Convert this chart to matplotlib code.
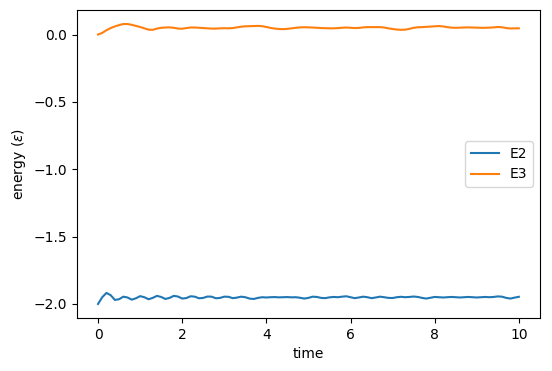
import numpy as np
import matplotlib
matplotlib.use("Agg")
import matplotlib.pyplot as plt

# tiempo (paso 0.1)
tiempo = np.arange(101) / 10

# energia E2
e2 = [
    -2.000, -1.950, -1.918, -1.935, -1.970, -1.965, -1.946, -1.952, -1.968, -1.958,
    -1.942, -1.950, -1.965, -1.955, -1.940, -1.948, -1.963, -1.955, -1.940, -1.945,
    -1.960, -1.956, -1.943, -1.946, -1.958, -1.955, -1.945, -1.946, -1.958, -1.955,
    -1.946, -1.947, -1.957, -1.953, -1.946, -1.950, -1.960, -1.963, -1.955, -1.950,
    -1.952, -1.950, -1.949, -1.951, -1.950, -1.949, -1.951, -1.950, -1.954, -1.960,
    -1.955, -1.946, -1.948, -1.955, -1.957, -1.951, -1.948, -1.950, -1.946, -1.943,
    -1.950, -1.957, -1.952, -1.946, -1.950, -1.957, -1.952, -1.946, -1.950, -1.955,
    -1.956, -1.950, -1.947, -1.950, -1.948, -1.945, -1.948, -1.955, -1.960, -1.954,
    -1.948, -1.950, -1.952, -1.950, -1.948, -1.950, -1.952, -1.950, -1.948, -1.950,
    -1.952, -1.950, -1.948, -1.950, -1.948, -1.944, -1.946, -1.955, -1.960, -1.953,
    -1.947,
]

# energia E3
e3 = [
    0.000, 0.012, 0.032, 0.048, 0.060, 0.070, 0.078, 0.078, 0.072, 0.064,
    0.056, 0.046, 0.036, 0.035, 0.044, 0.050, 0.052, 0.053, 0.050, 0.044,
    0.043, 0.048, 0.052, 0.052, 0.050, 0.048, 0.046, 0.044, 0.044, 0.046,
    0.047, 0.046, 0.048, 0.053, 0.058, 0.061, 0.062, 0.063, 0.064, 0.062,
    0.056, 0.049, 0.044, 0.041, 0.040, 0.042, 0.046, 0.050, 0.053, 0.054,
    0.053, 0.052, 0.050, 0.048, 0.047, 0.046, 0.046, 0.048, 0.050, 0.052,
    0.050, 0.048, 0.049, 0.053, 0.055, 0.055, 0.055, 0.055, 0.052, 0.046,
    0.041, 0.037, 0.035, 0.036, 0.042, 0.050, 0.054, 0.055, 0.057, 0.059,
    0.061, 0.063, 0.060, 0.055, 0.051, 0.050, 0.051, 0.052, 0.053, 0.052,
    0.051, 0.050, 0.050, 0.051, 0.053, 0.056, 0.054, 0.048, 0.045, 0.046,
    0.046,
]

fig = plt.figure(figsize=(5.52, 3.71), dpi=100)
ax = fig.add_axes([0.1395, 0.143, 0.8385, 0.830])

ax.plot(tiempo, e2, label="E2")
ax.plot(tiempo, e3, label="E3")
ax.set_xlabel("time")
ax.set_ylabel(r"energy ($\varepsilon$)")
ax.legend(loc="center right")

fig.savefig("out.png", dpi=100)
